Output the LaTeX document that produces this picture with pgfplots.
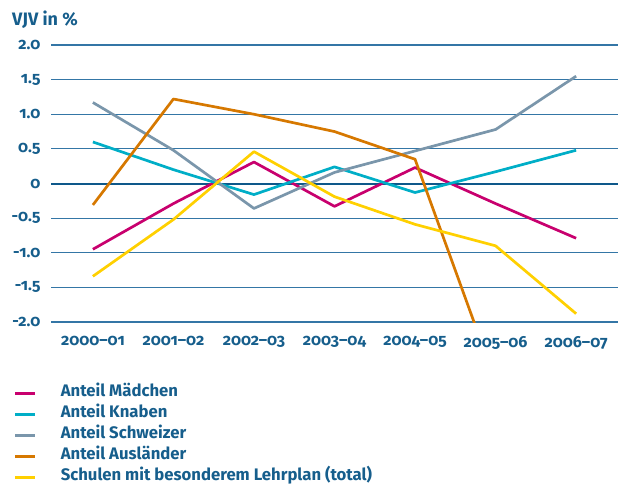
\documentclass[border=0pt]{standalone}
\usepackage{fontspec}
\setmainfont{Fira Sans}[Numbers=OldStyle]
\newfontfamily\osf{Fira Sans}[Numbers=OldStyle,Ligatures=TeX]
\usepackage{pgfplots}
\pgfplotsset{compat=1.18}
\definecolor{txt}{RGB}{22,94,140}
\definecolor{gridc}{RGB}{52,118,166}
\definecolor{zeroc}{RGB}{14,88,138}
\definecolor{cMaed}{RGB}{200,0,110}
\definecolor{cKnab}{RGB}{0,174,199}
\definecolor{cSchw}{RGB}{122,150,171}
\definecolor{cAusl}{RGB}{214,120,0}
\definecolor{cSchu}{RGB}{255,208,0}
\newcommand\ol[1]{\mbox{\osf\bfseries #1}}
\begin{document}
\begin{tikzpicture}[x=1pt,y=1pt]
\path[use as bounding box] (0,0) rectangle (626,485);
\node[anchor=base west, text=txt, inner sep=0pt, font=\fontsize{18}{21}\selectfont\bfseries] at (12,459) {VJV in \%};
\begin{axis}[
 at={(51pt,163pt)}, anchor=south west,
 scale only axis, width=567pt, height=277pt,
 xmin=-0.52, xmax=6.52, ymin=-2, ymax=2,
 clip=true,
 axis line style={draw=none},
 major tick length=0pt,
 xtick={0,1,2,3,4,5,6},
 xticklabels={\ol{2000--01},\ol{2001--02},\ol{2002--03},\ol{2003--04},\ol{2004--05},\ol{2005--06},\ol{2006--07}},
 ytick={-2,-1.5,-1,-0.5,0.5,1,1.5,2},
 yticklabels={\ol{-2.0},\ol{-1.5},\ol{-1.0},\ol{-0.5},\ol{0.5},\ol{1.0},\ol{1.5},\ol{2.0}},
 extra y ticks={0},
 extra y tick labels={\ol{0}},
 extra y tick style={grid style={draw=zeroc, line width=2pt}},
 ymajorgrids,
 grid style={draw=gridc, line width=1.2pt},
 ticklabel style={text=txt, font=\fontsize{16}{19}\selectfont\bfseries},
 yticklabel style={anchor=east, xshift=-7pt},
 xticklabel style={anchor=north, yshift=-11pt},
 every axis plot/.append style={line width=2.7pt, line join=round},
 legend style={at={(axis description cs:-0.0653,-0.22)}, anchor=north west, draw=none, fill=none,
   inner sep=0pt, column sep=24pt, row sep=0pt,
   nodes={inner sep=0pt, text height=13pt, text depth=8pt, anchor=west, text=txt, font=\fontsize{16.7}{20}\selectfont\bfseries}},
 legend cell align=left,
 legend image code/.code={\draw[#1, line width=2.6pt] (0pt,0pt) -- (20pt,0pt);},
]
\addplot[cMaed] coordinates {(0,-0.95) (1,-0.29) (2,0.31) (3,-0.33) (4,0.23) (5,-0.29) (6,-0.79)};
\addlegendentry{Anteil Mädchen}
\addplot[cKnab] coordinates {(0,0.60) (1,0.20) (2,-0.16) (3,0.24) (4,-0.13) (5,0.17) (6,0.48)};
\addlegendentry{Anteil Knaben}
\addplot[cSchw] coordinates {(0,1.17) (1,0.48) (2,-0.36) (3,0.16) (4,0.47) (5,0.78) (6,1.55)};
\addlegendentry{Anteil Schweizer}
\addplot[cAusl] coordinates {(0,-0.31) (1,1.22) (2,1.00) (3,0.75) (4,0.35) (5,-2.86)};
\addlegendentry{Anteil Ausländer}
\addplot[cSchu] coordinates {(0,-1.34) (1,-0.52) (2,0.46) (3,-0.19) (4,-0.59) (5,-0.90) (6,-1.88)};
\addlegendentry{Schulen mit besonderem Lehrplan (total)}
\end{axis}
\end{tikzpicture}
\end{document}
